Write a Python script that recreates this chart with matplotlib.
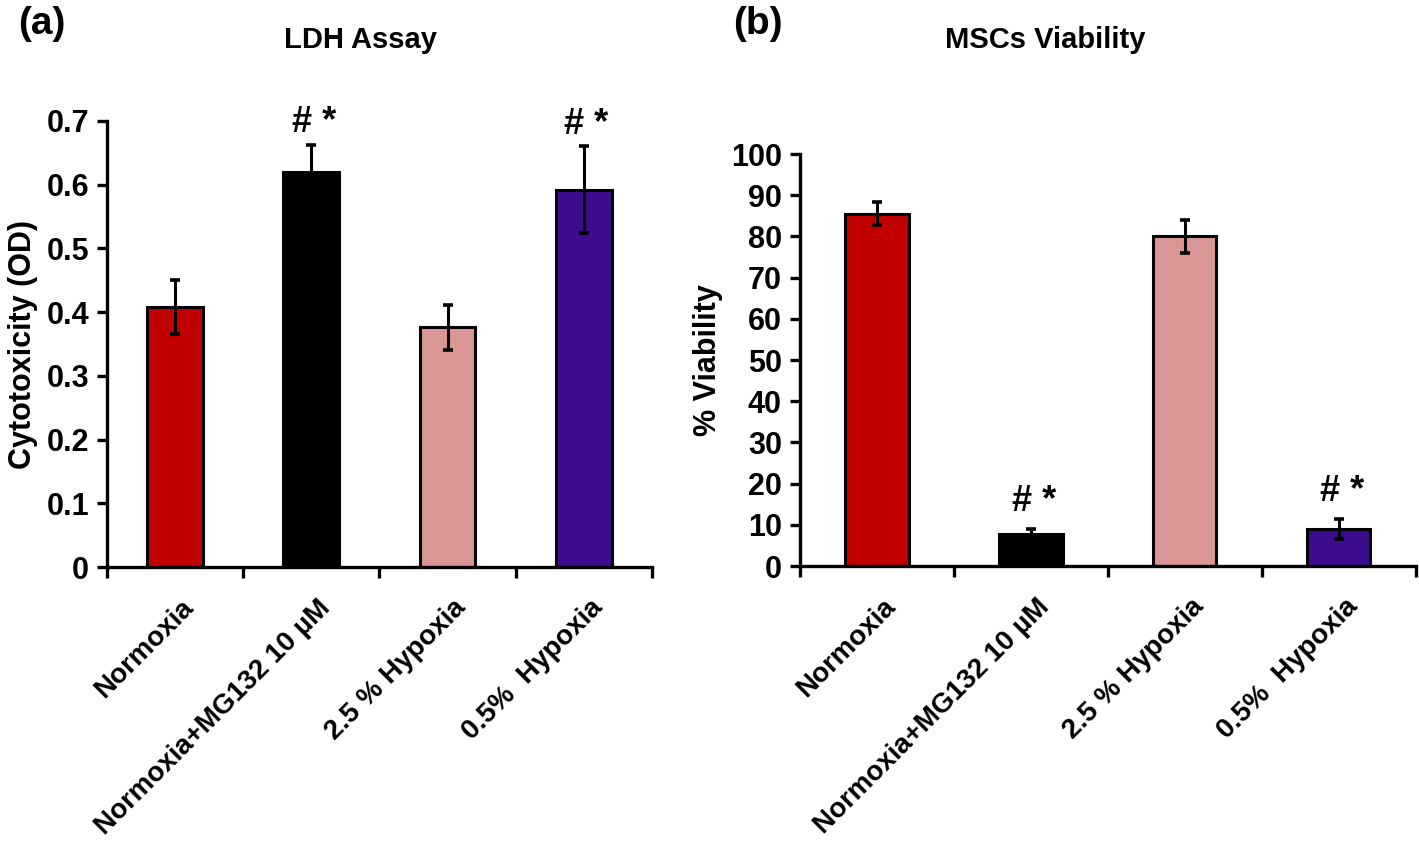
import matplotlib
matplotlib.use("Agg")
import matplotlib.pyplot as plt
import matplotlib.transforms as mtrans
import numpy as np
from matplotlib.ticker import FixedLocator, MultipleLocator, FuncFormatter

plt.rcParams['font.family'] = ['Liberation Sans', 'DejaVu Sans']
plt.rcParams['font.weight'] = 'bold'

categories = ["Normoxia", "Normoxia+MG132 10 \u00b5M", "2.5 % Hypoxia", "0.5%  Hypoxia"]
colors = ["#C00000", "#000000", "#DA9694", "#3D0C8E"]

ldh_values = [0.408, 0.620, 0.376, 0.592]
ldh_errors = [0.043, 0.043, 0.036, 0.068]

viab_values = [85.5, 7.8, 80.0, 9.0]
viab_errors = [2.8, 1.2, 4.0, 2.4]

sig_marks = ["", "# *", "", "# *"]

fig = plt.figure(figsize=(14.19, 8.49), dpi=100)

def panel(rect, values, errors, ylim, ystep, ylabel, title, title_x, letter, letter_x, yfmt, sig_off):
    ax = fig.add_axes(rect)
    x = np.arange(len(values))
    ax.bar(x, values, width=0.41, color=colors, edgecolor="black", linewidth=2.2, zorder=2)
    ax.errorbar(x, values, yerr=errors, fmt="none", ecolor="black", elinewidth=2.2,
                capsize=3.5, capthick=2.6, zorder=3)
    ax.set_xlim(-0.5, len(values) - 0.5)
    ax.set_ylim(*ylim)
    ax.yaxis.set_major_locator(MultipleLocator(ystep))
    ax.yaxis.set_major_formatter(yfmt)
    for s in ["top", "right"]:
        ax.spines[s].set_visible(False)
    for s in ["left", "bottom"]:
        ax.spines[s].set_linewidth(2.4)
    ax.tick_params(axis="y", direction="out", length=7, width=2.4, labelsize=22, pad=6)
    ax.set_xticks(x)
    ax.set_xticklabels(categories, rotation=45, ha="right", va="top",
                       rotation_mode="anchor", fontsize=20, fontweight="bold")
    ax.tick_params(axis="x", which="major", length=0, pad=20)
    shift = mtrans.ScaledTranslation(4 / 72, 0, fig.dpi_scale_trans)
    for lbl in ax.get_xticklabels():
        lbl.set_transform(lbl.get_transform() + shift)
    ax.xaxis.set_minor_locator(FixedLocator(np.arange(-0.5, len(values), 1.0)))
    ax.tick_params(axis="x", which="minor", direction="out", length=8, width=2.4)
    for lbl in ax.get_yticklabels():
        lbl.set_fontweight("bold")
    ax.set_ylabel(ylabel, fontsize=22, fontweight="bold", labelpad=6)
    for i, m in enumerate(sig_marks):
        if m:
            ax.annotate(m, (x[i], values[i] + errors[i]), xytext=(2, sig_off),
                        textcoords="offset points", ha="center", va="bottom",
                        fontsize=26, fontweight="bold")
    fig.text(title_x, 0.953, title, ha="center", va="center",
             fontsize=21, fontweight="bold")
    fig.text(letter_x, 0.972, letter, ha="left", va="center", fontsize=28, fontweight="bold")
    return ax

panel([0.0754, 0.332, 0.384, 0.5255], ldh_values, ldh_errors, (0, 0.7), 0.1,
      "Cytotoxicity (OD)", "LDH Assay", 0.2537, "(a)", 0.013,
      FuncFormatter(lambda v, p: "0" if abs(v) < 1e-9 else f"{v:.1f}"), 3)
panel([0.5638, 0.3333, 0.434, 0.4853], viab_values, viab_errors, (0, 100), 10,
      "% Viability", "MSCs Viability", 0.7364, "(b)", 0.517,
      FuncFormatter(lambda v, p: f"{int(round(v))}"), 7)

fig.savefig("out.png", dpi=100)
